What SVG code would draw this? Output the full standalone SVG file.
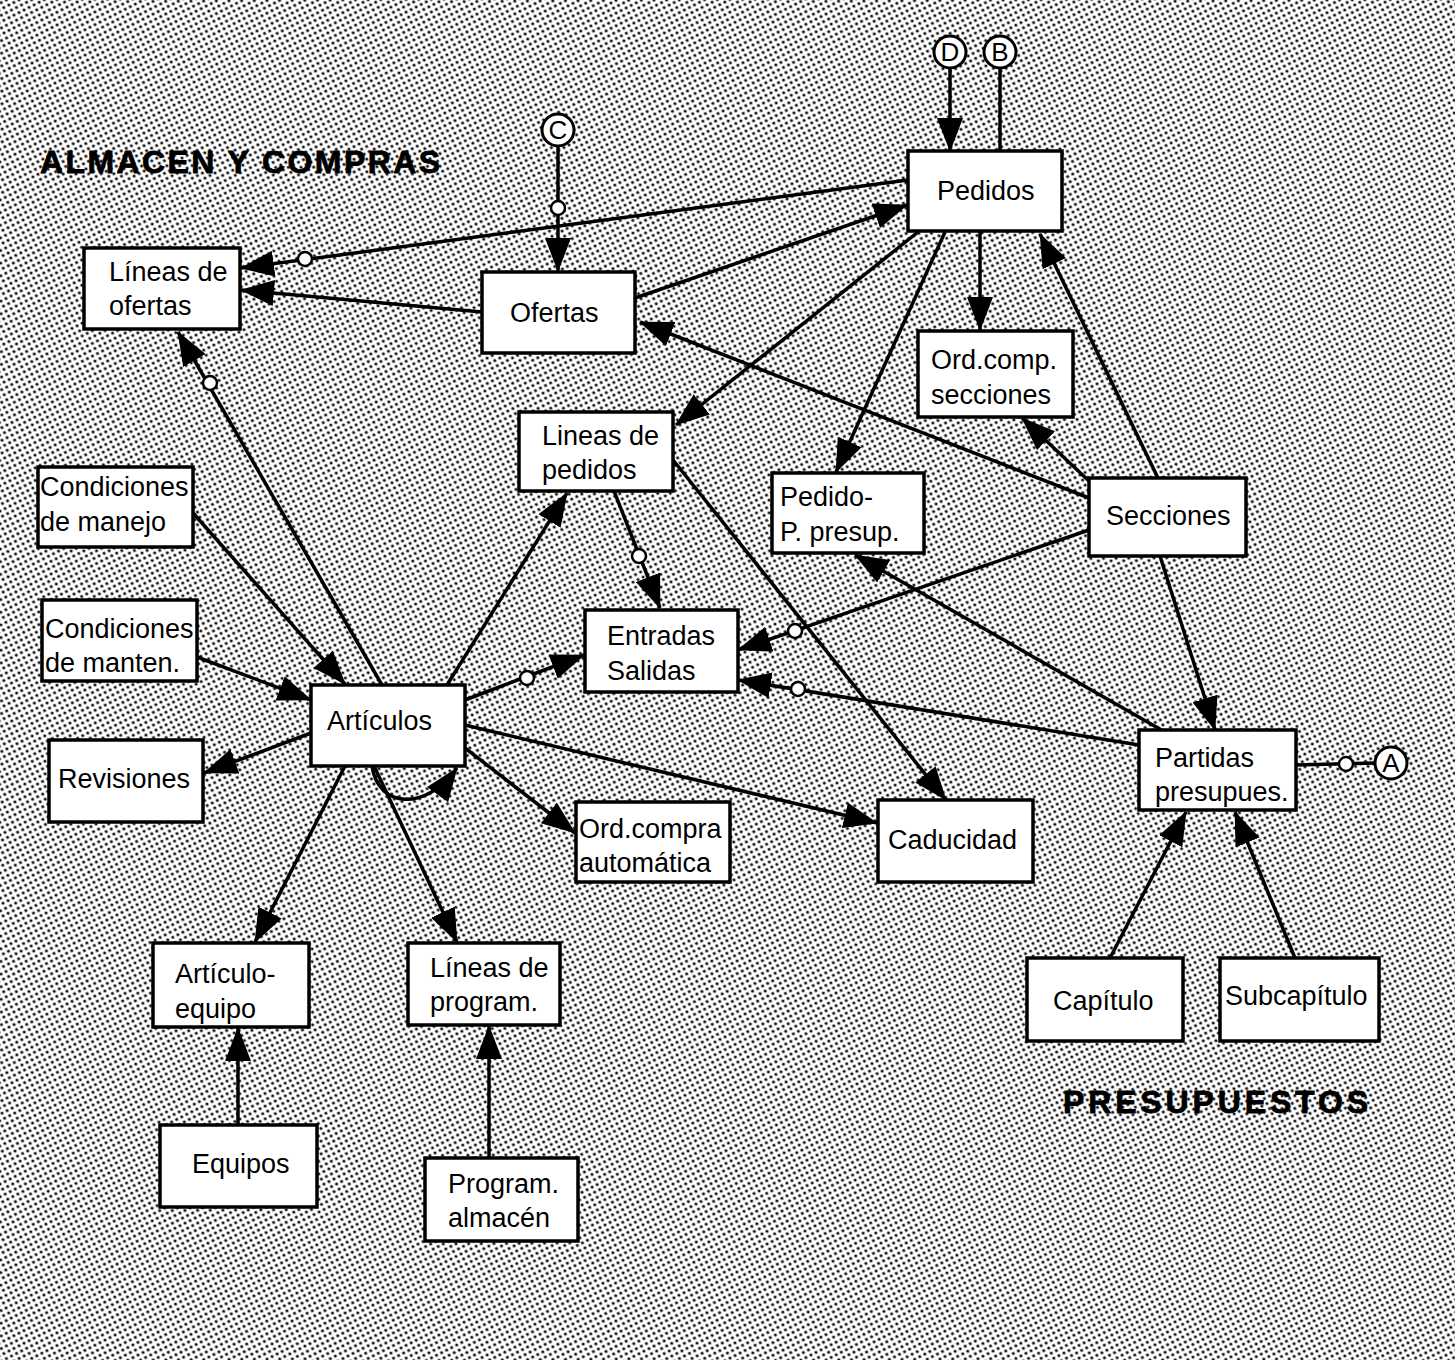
<svg xmlns="http://www.w3.org/2000/svg" width="1455" height="1360" viewBox="0 0 1455 1360">
  <defs>
    <!-- stippled screen used as the page background -->
    <pattern id="dots" width="8" height="8" patternUnits="userSpaceOnUse" patternTransform="rotate(18)">
      <rect width="8" height="8" fill="#ffffff"/>
      <circle cx="2" cy="2" r="1.6" fill="#111"/>
      <circle cx="6" cy="6" r="1.6" fill="#111"/>
    </pattern>
    <marker id="arrow" markerUnits="userSpaceOnUse" markerWidth="34" markerHeight="26" viewBox="0 0 34 26" refX="33" refY="13" orient="auto">
      <path d="M0,0 L34,13 L0,26 Z" fill="#000"/>
    </marker>
    <style>
      .box { fill: #fff; stroke: #000; stroke-width: 3.5; }
      .lbl { font-family: "Liberation Sans", Arial, sans-serif; font-size: 27px; fill: #000; }
      .title { font-family: "Liberation Sans", Arial, sans-serif; font-weight: bold; font-size: 32px; fill: #000; stroke: #000; stroke-width: 0.8; }
      .edge { fill: none; stroke: #000; stroke-width: 3.5; }
      .arr { marker-end: url(#arrow); }
      .oc { fill: #fff; stroke: #000; stroke-width: 2.5; }
      .ref { fill: #fff; stroke: #000; stroke-width: 3; }
      .refl { font-family: "Liberation Sans", Arial, sans-serif; font-size: 26px; fill: #000; text-anchor: middle; }
    </style>
  </defs>

  <rect x="0" y="0" width="1455" height="1360" fill="url(#dots)"/>

  <!-- section titles -->
  <text class="title" x="40" y="173" textLength="400" lengthAdjust="spacing">ALMACEN Y COMPRAS</text>
  <text class="title" x="1063" y="1113" textLength="305" lengthAdjust="spacing">PRESUPUESTOS</text>

  <g id="connectors">
    <!-- off-page references -->
    <line class="edge arr" x1="950" y1="68" x2="950" y2="151"/>
    <line class="edge" x1="1000" y1="68" x2="1000" y2="151"/>
    <line class="edge arr" x1="558" y1="146" x2="558" y2="271"/>
    <circle class="oc" cx="558" cy="208" r="7"/>
    <line class="edge" x1="1296" y1="765" x2="1375" y2="763"/>
    <circle class="oc" cx="1346" cy="764" r="7"/>

    <!-- Pedidos -->
    <line class="edge arr" x1="908" y1="180" x2="241" y2="268"/>
    <circle class="oc" cx="305" cy="259" r="7"/>
    <line class="edge arr" x1="482" y1="312" x2="241" y2="290"/>
    <line class="edge arr" x1="635" y1="298" x2="907" y2="205"/>
    <line class="edge arr" x1="918" y1="232" x2="676" y2="425"/>
    <line class="edge arr" x1="945" y1="232" x2="836" y2="472"/>
    <line class="edge arr" x1="980" y1="232" x2="980" y2="330"/>

    <!-- Secciones -->
    <line class="edge arr" x1="1158" y1="478" x2="1040" y2="234"/>
    <line class="edge arr" x1="1089" y1="498" x2="640" y2="322"/>
    <line class="edge arr" x1="1090" y1="482" x2="1022" y2="418"/>
    <line class="edge arr" x1="1089" y1="530" x2="738" y2="650"/>
    <circle class="oc" cx="795" cy="631" r="7"/>
    <line class="edge arr" x1="1160" y1="556" x2="1215" y2="730"/>

    <!-- Partidas presupues. -->
    <line class="edge arr" x1="1165" y1="732" x2="855" y2="555"/>
    <line class="edge arr" x1="1139" y1="745" x2="738" y2="680"/>
    <circle class="oc" cx="798" cy="689" r="7"/>
    <line class="edge arr" x1="1110" y1="958" x2="1186" y2="812"/>
    <line class="edge arr" x1="1295" y1="958" x2="1235" y2="812"/>

    <!-- Lineas de pedidos -->
    <line class="edge arr" x1="673" y1="460" x2="946" y2="800"/>
    <line class="edge arr" x1="614" y1="491" x2="660" y2="608"/>
    <circle class="oc" cx="639" cy="556" r="7"/>

    <!-- Artículos -->
    <line class="edge arr" x1="447" y1="685" x2="567" y2="493"/>
    <line class="edge arr" x1="465" y1="700" x2="584" y2="655"/>
    <circle class="oc" cx="527" cy="678" r="7"/>
    <line class="edge arr" x1="382" y1="685" x2="178" y2="332"/>
    <circle class="oc" cx="210" cy="383" r="7"/>
    <line class="edge arr" x1="193" y1="513" x2="345" y2="684"/>
    <line class="edge arr" x1="197" y1="657" x2="311" y2="700"/>
    <line class="edge arr" x1="311" y1="733" x2="204" y2="773"/>
    <path class="edge arr" d="M372,766 C378,808 425,812 457,768"/>
    <line class="edge arr" x1="465" y1="748" x2="575" y2="833"/>
    <line class="edge arr" x1="465" y1="725" x2="877" y2="823"/>
    <line class="edge arr" x1="345" y1="766" x2="255" y2="942"/>
    <line class="edge arr" x1="374" y1="766" x2="457" y2="942"/>

    <!-- lower feeds -->
    <line class="edge arr" x1="238" y1="1125" x2="238" y2="1028"/>
    <line class="edge arr" x1="489" y1="1158" x2="489" y2="1026"/>
  </g>

  <g id="ref-D"><circle class="ref" cx="950" cy="52" r="16"/><text class="refl" x="950" y="61">D</text></g>
  <g id="ref-B"><circle class="ref" cx="1000" cy="52" r="16"/><text class="refl" x="1000" y="61">B</text></g>
  <g id="ref-C"><circle class="ref" cx="558" cy="130" r="16"/><text class="refl" x="558" y="139">C</text></g>
  <g id="ref-A"><circle class="ref" cx="1391" cy="763" r="16"/><text class="refl" x="1391" y="772">A</text></g>

  <g id="pedidos"><rect class="box" x="908" y="151" width="154" height="80"/><text class="lbl" x="937" y="200">Pedidos</text></g>
  <g id="lineas-ofertas"><rect class="box" x="84" y="248" width="156" height="81"/><text class="lbl" x="109" y="281">Líneas de</text><text class="lbl" x="109" y="315">ofertas</text></g>
  <g id="ofertas"><rect class="box" x="482" y="272" width="153" height="81"/><text class="lbl" x="510" y="322">Ofertas</text></g>
  <g id="ordcomp-secciones"><rect class="box" x="918" y="331" width="155" height="86"/><text class="lbl" x="931" y="369">Ord.comp.</text><text class="lbl" x="931" y="404">secciones</text></g>
  <g id="lineas-pedidos"><rect class="box" x="519" y="412" width="154" height="79"/><text class="lbl" x="542" y="445">Lineas de</text><text class="lbl" x="542" y="479">pedidos</text></g>
  <g id="pedido-presup"><rect class="box" x="772" y="473" width="152" height="80"/><text class="lbl" x="780" y="506">Pedido-</text><text class="lbl" x="780" y="541">P. presup.</text></g>
  <g id="secciones"><rect class="box" x="1089" y="478" width="157" height="78"/><text class="lbl" x="1106" y="525">Secciones</text></g>
  <g id="cond-manejo"><rect class="box" x="38" y="467" width="155" height="80"/><text class="lbl" x="40" y="496">Condiciones</text><text class="lbl" x="40" y="531">de manejo</text></g>
  <g id="cond-manten"><rect class="box" x="42" y="600" width="155" height="81"/><text class="lbl" x="45" y="638">Condiciones</text><text class="lbl" x="45" y="672">de manten.</text></g>
  <g id="entradas-salidas"><rect class="box" x="585" y="610" width="153" height="82"/><text class="lbl" x="607" y="645">Entradas</text><text class="lbl" x="607" y="680">Salidas</text></g>
  <g id="articulos"><rect class="box" x="311" y="685" width="154" height="81"/><text class="lbl" x="327" y="730">Artículos</text></g>
  <g id="revisiones"><rect class="box" x="49" y="740" width="154" height="82"/><text class="lbl" x="58" y="788">Revisiones</text></g>
  <g id="partidas"><rect class="box" x="1139" y="730" width="157" height="80"/><text class="lbl" x="1155" y="767">Partidas</text><text class="lbl" x="1155" y="801">presupues.</text></g>
  <g id="caducidad"><rect class="box" x="878" y="800" width="155" height="82"/><text class="lbl" x="888" y="849">Caducidad</text></g>
  <g id="ordcompra-auto"><rect class="box" x="576" y="802" width="154" height="80"/><text class="lbl" x="579" y="838">Ord.compra</text><text class="lbl" x="579" y="872">automática</text></g>
  <g id="articulo-equipo"><rect class="box" x="153" y="943" width="156" height="84"/><text class="lbl" x="175" y="983">Artículo-</text><text class="lbl" x="175" y="1018">equipo</text></g>
  <g id="lineas-program"><rect class="box" x="408" y="943" width="152" height="82"/><text class="lbl" x="430" y="977">Líneas de</text><text class="lbl" x="430" y="1011">program.</text></g>
  <g id="capitulo"><rect class="box" x="1027" y="958" width="156" height="83"/><text class="lbl" x="1053" y="1010">Capítulo</text></g>
  <g id="subcapitulo"><rect class="box" x="1220" y="958" width="159" height="83"/><text class="lbl" x="1225" y="1005">Subcapítulo</text></g>
  <g id="equipos"><rect class="box" x="160" y="1125" width="157" height="82"/><text class="lbl" x="192" y="1173">Equipos</text></g>
  <g id="program-almacen"><rect class="box" x="425" y="1158" width="153" height="83"/><text class="lbl" x="448" y="1193">Program.</text><text class="lbl" x="448" y="1227">almacén</text></g>
</svg>
